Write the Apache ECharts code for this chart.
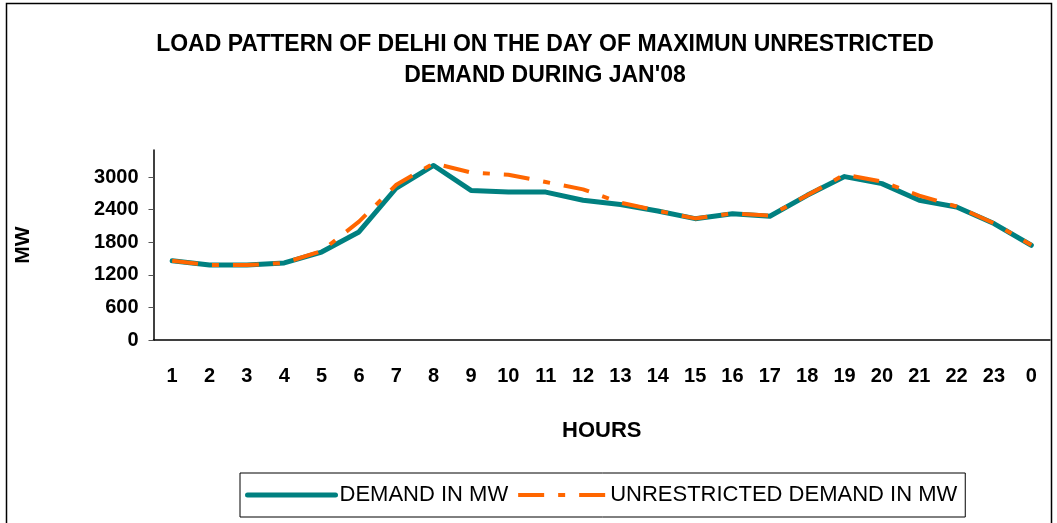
<!DOCTYPE html>
<html>
<head>
<meta charset="utf-8">
<script src="https://cdn.jsdelivr.net/npm/echarts@6/dist/echarts.min.js"></script>
<style>
  html, body { margin: 0; padding: 0; background: #fff; }
  #chart { width: 1057px; height: 523px; }
</style>
</head>
<body>
<div id="chart"></div>
<script>
const hours = ['1', '2', '3', '4', '5', '6', '7', '8', '9', '10', '11', '12',
               '13', '14', '15', '16', '17', '18', '19', '20', '21', '22', '23', '0'];
const demand = [1460, 1380, 1380, 1420, 1620, 1990, 2800, 3215, 2755, 2725, 2725, 2575,
                2495, 2375, 2235, 2325, 2280, 2665, 3010, 2880, 2575, 2450, 2145, 1745];
const unrestricted = [1460, 1380, 1380, 1420, 1640, 2180, 2860, 3255, 3085, 3045, 2910, 2775,
                      2530, 2380, 2240, 2330, 2290, 2665, 3045, 2920, 2660, 2460, 2150, 1750];
const yTicks = [0, 600, 1200, 1800, 2400, 3000];

const font = '"Liberation Sans", Arial, sans-serif';
const chart = echarts.init(document.getElementById('chart'), null, { renderer: 'canvas' });

chart.setOption({
  animation: false,
  backgroundColor: '#fff',
  title: {
    text: "LOAD PATTERN OF DELHI ON THE DAY OF MAXIMUN UNRESTRICTED\nDEMAND DURING JAN'08",
    left: 540,
    top: 24,
    textAlign: 'center',
    textStyle: { fontFamily: font, fontSize: 23, fontWeight: 'bold', color: '#000', lineHeight: 31 },
  },
  graphic: [{
    type: 'rect',
    shape: { x: 6.5, y: 3.5, width: 1045, height: 540 },
    style: { fill: 'none', stroke: '#000', lineWidth: 1.5 },
    z: -1,
  }],
  legend: {
    left: 240,
    top: 473,
    padding: [11, 8, 11, 5],
    itemGap: 8,
    itemWidth: 88,
    itemHeight: 14,
    borderColor: '#000',
    borderWidth: 1,
    itemStyle: { opacity: 0 },
    textStyle: { fontFamily: font, fontSize: 22, color: '#000', padding: [0, 0, 0, -1] },
    data: [
      { name: 'DEMAND IN MW', lineStyle: { width: 5 } },
      { name: 'UNRESTRICTED DEMAND IN MW', lineStyle: { width: 4 } },
    ],
  },
  grid: { left: 153.5, right: 7, top: 150, bottom: 183 },
  xAxis: {
    type: 'category',
    data: hours,
    boundaryGap: true,
    name: 'HOURS',
    nameLocation: 'middle',
    nameGap: 80,
    nameTextStyle: { fontFamily: font, fontSize: 22, fontWeight: 'bold', color: '#000' },
    axisLine: { lineStyle: { color: '#000', width: 1.5 } },
    axisTick: { length: 5, lineStyle: { color: '#555' } },
    axisLabel: { fontFamily: font, fontSize: 20, fontWeight: 'bold', color: '#000', margin: 26, interval: 0 },
  },
  yAxis: {
    type: 'value',
    min: 0,
    max: 3500,
    name: 'MW',
    nameLocation: 'middle',
    nameGap: 120,
    nameTextStyle: { fontFamily: font, fontSize: 21, fontWeight: 'bold', color: '#000' },
    splitLine: { show: false },
    axisLine: { show: true, lineStyle: { color: '#000', width: 1.5 } },
    axisTick: { show: true, length: 5, customValues: yTicks, lineStyle: { color: '#555' } },
    axisLabel: {
      fontFamily: font, fontSize: 20, fontWeight: 'bold', color: '#000', margin: 15,
      customValues: yTicks,
      formatter: (v) => String(v),
    },
  },
  series: [
    {
      name: 'DEMAND IN MW',
      type: 'line',
      data: demand,
      showSymbol: false,
      symbol: 'none',
      lineStyle: { color: '#008080', width: 5, cap: 'round', join: 'round' },
      itemStyle: { color: '#008080' },
      z: 2,
    },
    {
      name: 'UNRESTRICTED DEMAND IN MW',
      type: 'line',
      data: unrestricted,
      showSymbol: false,
      symbol: 'none',
      lineStyle: { color: '#ff6600', width: 4, type: [26, 14, 7, 14] },
      itemStyle: { color: '#ff6600' },
      z: 3,
    },
  ],
});
</script>
</body>
</html>
